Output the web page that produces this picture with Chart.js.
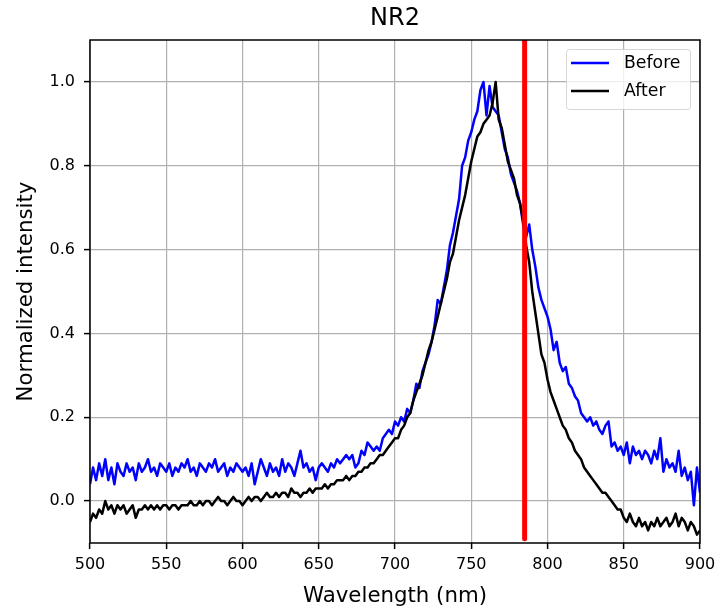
<!DOCTYPE html>
<html>
<head>
<meta charset="utf-8">
<title>NR2</title>
<script src="https://cdn.jsdelivr.net/npm/chart.js@4.4.1/dist/chart.umd.min.js"></script>
<style>
    html, body { margin: 0; padding: 0; background: #ffffff; }
    #wrap { width: 719px; height: 614px; }
</style>
</head>
<body>
<div id="wrap"><canvas id="spectrumChart" width="719" height="614"></canvas></div>
<script>
// Data
const WAVELENGTH = [
    500, 502, 504, 506, 508, 510, 512, 514, 516, 518, 520, 522, 524, 526, 528, 530, 532, 534, 536, 538,
    540, 542, 544, 546, 548, 550, 552, 554, 556, 558, 560, 562, 564, 566, 568, 570, 572, 574, 576, 578,
    580, 582, 584, 586, 588, 590, 592, 594, 596, 598, 600, 602, 604, 606, 608, 610, 612, 614, 616, 618,
    620, 622, 624, 626, 628, 630, 632, 634, 636, 638, 640, 642, 644, 646, 648, 650, 652, 654, 656, 658,
    660, 662, 664, 666, 668, 670, 672, 674, 676, 678, 680, 682, 684, 686, 688, 690, 692, 694, 696, 698,
    700, 702, 704, 706, 708, 710, 712, 714, 716, 718, 720, 722, 724, 726, 728, 730, 732, 734, 736, 738,
    740, 742, 744, 746, 748, 750, 752, 754, 756, 758, 760, 762, 764, 766, 768, 770, 772, 774, 776, 778,
    780, 782, 784, 786, 788, 790, 792, 794, 796, 798, 800, 802, 804, 806, 808, 810, 812, 814, 816, 818,
    820, 822, 824, 826, 828, 830, 832, 834, 836, 838, 840, 842, 844, 846, 848, 850, 852, 854, 856, 858,
    860, 862, 864, 866, 868, 870, 872, 874, 876, 878, 880, 882, 884, 886, 888, 890, 892, 894, 896, 898,
    900
];

const BEFORE = [
    0.04, 0.08, 0.05, 0.09, 0.06, 0.10, 0.05, 0.08, 0.04, 0.09, 0.07, 0.06, 0.09, 0.07, 0.08, 0.05, 0.09, 0.07, 0.08, 0.10,
    0.07, 0.08, 0.06, 0.09, 0.08, 0.07, 0.09, 0.06, 0.08, 0.07, 0.09, 0.08, 0.10, 0.07, 0.08, 0.06, 0.09, 0.08, 0.07, 0.09,
    0.08, 0.10, 0.07, 0.08, 0.09, 0.06, 0.08, 0.07, 0.09, 0.08, 0.07, 0.08, 0.06, 0.09, 0.04, 0.07, 0.10, 0.08, 0.06, 0.09,
    0.07, 0.08, 0.06, 0.10, 0.07, 0.09, 0.08, 0.06, 0.09, 0.12, 0.08, 0.09, 0.07, 0.08, 0.05, 0.08, 0.09, 0.08, 0.07, 0.09,
    0.08, 0.10, 0.09, 0.10, 0.11, 0.10, 0.11, 0.08, 0.09, 0.12, 0.11, 0.14, 0.13, 0.12, 0.13, 0.12, 0.15, 0.16, 0.17, 0.16,
    0.19, 0.18, 0.20, 0.19, 0.22, 0.21, 0.24, 0.28, 0.27, 0.31, 0.33, 0.35, 0.38, 0.42, 0.48, 0.47, 0.51, 0.55, 0.61, 0.64,
    0.68, 0.72, 0.80, 0.82, 0.86, 0.88, 0.91, 0.93, 0.98, 1.00, 0.92, 0.99, 0.94, 0.93, 0.92, 0.88, 0.84, 0.82, 0.78, 0.76,
    0.74, 0.71, 0.66, 0.63, 0.66, 0.60, 0.56, 0.51, 0.48, 0.46, 0.44, 0.41, 0.36, 0.38, 0.33, 0.31, 0.32, 0.28, 0.27, 0.25,
    0.24, 0.21, 0.20, 0.19, 0.20, 0.18, 0.19, 0.17, 0.16, 0.18, 0.19, 0.13, 0.14, 0.12, 0.13, 0.11, 0.14, 0.09, 0.13, 0.11,
    0.12, 0.10, 0.12, 0.11, 0.09, 0.12, 0.10, 0.15, 0.07, 0.10, 0.08, 0.09, 0.07, 0.12, 0.06, 0.08, 0.05, 0.07, -0.01, 0.08,
    0.02
];

const AFTER = [
    -0.05, -0.03, -0.04, -0.02, -0.03, 0.00, -0.02, -0.01, -0.03, -0.01, -0.02, -0.01, -0.03, -0.02, -0.01, -0.04, -0.02, -0.02, -0.01, -0.02,
    -0.01, -0.02, -0.01, -0.02, -0.01, -0.01, -0.02, -0.01, -0.01, -0.02, -0.01, -0.01, -0.01, 0.00, -0.01, -0.01, 0.00, -0.01, 0.00, 0.00,
    -0.01, 0.00, 0.01, 0.00, 0.00, -0.01, 0.00, 0.01, 0.00, 0.00, -0.01, 0.00, 0.01, 0.00, 0.01, 0.01, 0.00, 0.01, 0.02, 0.01,
    0.01, 0.02, 0.01, 0.02, 0.02, 0.01, 0.03, 0.02, 0.02, 0.01, 0.02, 0.02, 0.03, 0.02, 0.03, 0.03, 0.03, 0.04, 0.03, 0.04,
    0.04, 0.05, 0.05, 0.05, 0.06, 0.05, 0.06, 0.06, 0.07, 0.07, 0.08, 0.08, 0.09, 0.09, 0.10, 0.11, 0.11, 0.12, 0.13, 0.14,
    0.15, 0.15, 0.17, 0.18, 0.20, 0.21, 0.24, 0.26, 0.28, 0.30, 0.33, 0.36, 0.38, 0.41, 0.44, 0.47, 0.50, 0.53, 0.57, 0.59,
    0.63, 0.67, 0.70, 0.73, 0.77, 0.81, 0.84, 0.87, 0.88, 0.90, 0.91, 0.92, 0.95, 1.00, 0.91, 0.89, 0.85, 0.81, 0.79, 0.77,
    0.73, 0.71, 0.67, 0.61, 0.57, 0.50, 0.45, 0.40, 0.35, 0.33, 0.29, 0.26, 0.24, 0.22, 0.20, 0.18, 0.17, 0.15, 0.14, 0.12,
    0.11, 0.10, 0.08, 0.07, 0.06, 0.05, 0.04, 0.03, 0.02, 0.02, 0.01, 0.00, -0.01, -0.02, -0.02, -0.04, -0.05, -0.03, -0.05, -0.06,
    -0.04, -0.06, -0.05, -0.07, -0.05, -0.06, -0.04, -0.06, -0.05, -0.04, -0.06, -0.05, -0.03, -0.06, -0.04, -0.05, -0.07, -0.05, -0.06, -0.08,
    -0.07
];

// Vertical laser marker
const MARKER_NM = 785;
const MARKER_Y = [-0.09, 1.2];

const X_TICKS = [500, 550, 600, 650, 700, 750, 800, 850, 900];
const Y_TICKS = [0.0, 0.2, 0.4, 0.6, 0.8, 1.0];
const LEGEND_LABELS = ['Before', 'After'];

const FONT = 'DejaVu Sans';

// ======================
// Helpers / plugins
// ======================

function toPoints(xs, ys) {
    return xs.map((x, i) => ({ x: x, y: ys[i] }));
}

// matplotlib-style frame around the axes
const axesFrame = {
    id: 'axesFrame',
    afterDatasetsDraw(chart) {
        const { ctx, chartArea } = chart;
        ctx.save();
        ctx.strokeStyle = '#000000';
        ctx.lineWidth = 1.5;
        ctx.strokeRect(chartArea.left, chartArea.top,
            chartArea.right - chartArea.left, chartArea.bottom - chartArea.top);
        ctx.restore();
    }
};

// legend box in the upper right corner of the axes
const legendBox = {
    id: 'legendBox',
    afterDraw(chart) {
        const { ctx, chartArea } = chart;
        const items = chart.data.datasets.filter(d => LEGEND_LABELS.includes(d.label));
        const w = 124, h = 60;
        const x0 = chartArea.right - 10 - w;
        const y0 = chartArea.top + 9;

        ctx.save();
        ctx.beginPath();
        ctx.roundRect(x0 + 0.5, y0 + 0.5, w, h, 3);
        ctx.fillStyle = 'rgba(255,255,255,0.8)';
        ctx.fill();
        ctx.strokeStyle = 'rgba(204,204,204,0.8)';
        ctx.lineWidth = 1;
        ctx.stroke();

        items.forEach((d, i) => {
            const cy = y0 + 14 + i * 28;
            ctx.beginPath();
            ctx.moveTo(x0 + 5, cy);
            ctx.lineTo(x0 + 43, cy);
            ctx.strokeStyle = d.borderColor;
            ctx.lineWidth = 2.5;
            ctx.stroke();

            ctx.fillStyle = '#000000';
            ctx.font = `17.3px "${FONT}"`;
            ctx.textAlign = 'left';
            ctx.textBaseline = 'middle';
            ctx.fillText(d.label, x0 + 58, cy + 1);
        });
        ctx.restore();
    }
};

// ======================
// Chart
// ======================

Chart.defaults.font.family = FONT;
Chart.defaults.color = '#000000';

const ctx = document.getElementById('spectrumChart');

new Chart(ctx, {
    type: 'line',
    data: {
        datasets: [
            {
                label: 'Before',
                data: toPoints(WAVELENGTH, BEFORE),
                borderColor: '#0000ff',
                borderWidth: 2.5,
                pointRadius: 0,
                borderJoinStyle: 'round',
                clip: 0,
                order: 2
            },
            {
                label: 'After',
                data: toPoints(WAVELENGTH, AFTER),
                borderColor: '#000000',
                borderWidth: 2.5,
                pointRadius: 0,
                borderJoinStyle: 'round',
                clip: 0,
                order: 1
            },
            {
                label: 'marker',
                data: MARKER_Y.map(y => ({ x: MARKER_NM, y: y })),
                borderColor: '#ff0000',
                borderWidth: 5,
                borderCapStyle: 'round',
                pointRadius: 0,
                clip: 0,
                order: 0
            }
        ]
    },
    options: {
        responsive: false,
        animation: false,
        devicePixelRatio: 1,
        layout: { padding: { left: 0, right: 19, top: 0, bottom: 0 } },
        plugins: {
            legend: { display: false },
            tooltip: { enabled: false },
            title: {
                display: true,
                text: 'NR2',
                fullSize: false,
                color: '#000000',
                font: { size: 24, weight: 'normal' },
                padding: { top: 4.6, bottom: 6.6 }
            }
        },
        scales: {
            x: {
                type: 'linear',
                min: 500,
                max: 900,
                afterBuildTicks: s => { s.ticks = X_TICKS.map(v => ({ value: v })); },
                afterFit: s => {
                    s.height = 71;
                    s.paddingLeft = 0;
                    s.paddingRight = 0;
                },
                ticks: { font: { size: 16 }, color: '#000000', padding: 6, maxRotation: 0, autoSkip: false },
                grid: { color: '#b0b0b0', lineWidth: 1.2, tickColor: '#000000', tickWidth: 1.5, tickLength: 6 },
                border: { display: false },
                title: {
                    display: true,
                    text: 'Wavelength (nm)',
                    color: '#000000',
                    font: { size: 21.3 },
                    padding: { top: 0, bottom: 5.2 }
                }
            },
            y: {
                type: 'linear',
                min: -0.1,
                max: 1.1,
                afterBuildTicks: s => { s.ticks = Y_TICKS.map(v => ({ value: v })); },
                afterFit: s => {
                    s.width = 90;
                    s.paddingTop = 0;
                    s.paddingBottom = 0;
                },
                ticks: {
                    font: { size: 16 },
                    color: '#000000',
                    padding: 9,
                    callback: v => v.toFixed(1)
                },
                grid: { color: '#b0b0b0', lineWidth: 1.2, tickColor: '#000000', tickWidth: 1.5, tickLength: 6 },
                border: { display: false },
                title: {
                    display: true,
                    text: 'Normalized intensity',
                    color: '#000000',
                    font: { size: 21.3 },
                    padding: { top: 13.2, bottom: 0 }
                }
            }
        }
    },
    plugins: [axesFrame, legendBox]
});
</script>
</body>
</html>
